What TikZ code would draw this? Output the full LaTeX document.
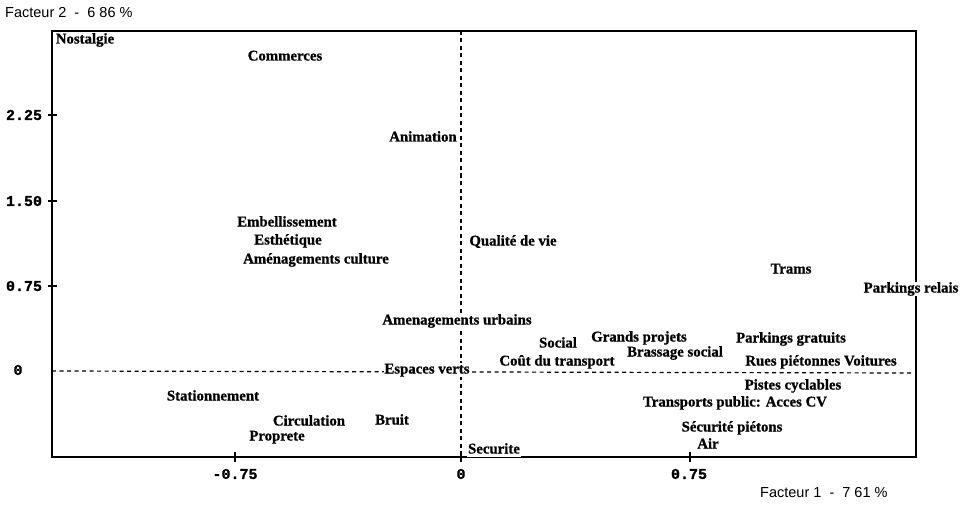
\documentclass[tikz,border=0pt]{standalone}
\usepackage{fontspec}
\setmainfont{Liberation Serif}
\newfontfamily\labfont[FakeBold=0.8]{Liberation Serif Bold}
\newfontfamily\axisfont{Liberation Sans}
\newfontfamily\tickfont[FakeBold=1.2]{Liberation Mono Bold}
\begin{document}
\begin{tikzpicture}[x=1pt,y=-1pt,
  lab/.style={font=\fontsize{14.8}{15}\selectfont\labfont, fill=white, inner sep=0.8pt, text height=9.5pt, text depth=2.5pt},
  tk/.style={font=\fontsize{15}{15}\selectfont\tickfont, inner sep=0pt},
  axl/.style={font=\fontsize{14.5}{15}\selectfont\axisfont, inner sep=0pt, anchor=west},
  frame/.style={line width=1.4pt},
  axisline/.style={line width=1.2pt, dash pattern=on 4pt off 3.5pt},
  tick/.style={line width=1.2pt}]
\useasboundingbox (0,0) rectangle (973,505);
% frame
\draw[frame] (52,31) rectangle (916,457);
% dashed axes
\draw[axisline] (461,31) -- (461,457);
\draw[axisline] (52,371) -- (912,373);
% ticks
\draw[tick] (48,115) -- (57,115);
\draw[tick] (48,201) -- (57,201);
\draw[tick] (48,286) -- (57,286);
\draw[tick] (235,452) -- (235,462);
\draw[tick] (461,452) -- (461,462);
\draw[tick] (690,452) -- (690,462);
% tick labels
\node[tk] (y225) at (24,115) {2.25};
\node[tk] (y150) at (24,201) {1.50};
\node[tk] (y075) at (24,286) {0.75};
\node[tk] (y000) at (18,370) {0};
\node[tk] (xm075) at (235,474) {-0.75};
\node[tk] (x000) at (461,474) {0};
\node[tk] (x075) at (689,474) {0.75};
% axis titles
\node[axl] (f2) at (5,13) {Facteur 2 \ - \ 6 86 \%};
\node[axl] (f1) at (760,493) {Facteur 1 \ - \ 7 61 \%};
% labels
\node[lab] (nostalgie) at (85,40) {Nostalgie};
\node[lab] (commerces) at (285,57) {Commerces};
\node[lab] (animation) at (423,138) {Animation};
\node[lab] (embell) at (287,223) {Embellissement};
\node[lab] (esthe) at (288,241) {Esthétique};
\node[lab] (amcult) at (316,260) {Aménagements culture};
\node[lab] (qualite) at (513,242) {Qualité de vie};
\node[lab] (trams) at (791,270) {Trams};
\node[lab] (prelais) at (911,289) {Parkings relais};
\node[lab] (amurb) at (457,321) {Amenagements urbains};
\node[lab] (social) at (558,344) {Social};
\node[lab] (grands) at (639,338) {Grands projets};
\node[lab] (pgrat) at (791,339) {Parkings gratuits};
\node[lab] (cout) at (557,362) {Coût du transport};
\node[lab] (brassage) at (675,353) {Brassage social};
\node[lab] (rues) at (821,362) {Rues piétonnes Voitures};
\node[lab] (espaces) at (427,370) {Espaces verts};
\node[lab] (pistes) at (793,386) {Pistes cyclables};
\node[lab] (station) at (213,397) {Stationnement};
\node[lab] (transp) at (735,403) {Transports public: Acces CV};
\node[lab] (circ) at (309,422) {Circulation};
\node[lab] (bruit) at (392,421) {Bruit};
\node[lab] (secpiet) at (732,428) {Sécurité piétons};
\node[lab] (proprete) at (277,437) {Proprete};
\node[lab] (air) at (708,445) {Air};
\node[lab] (securite) at (494,450) {Securite};
\end{tikzpicture}
\end{document}
